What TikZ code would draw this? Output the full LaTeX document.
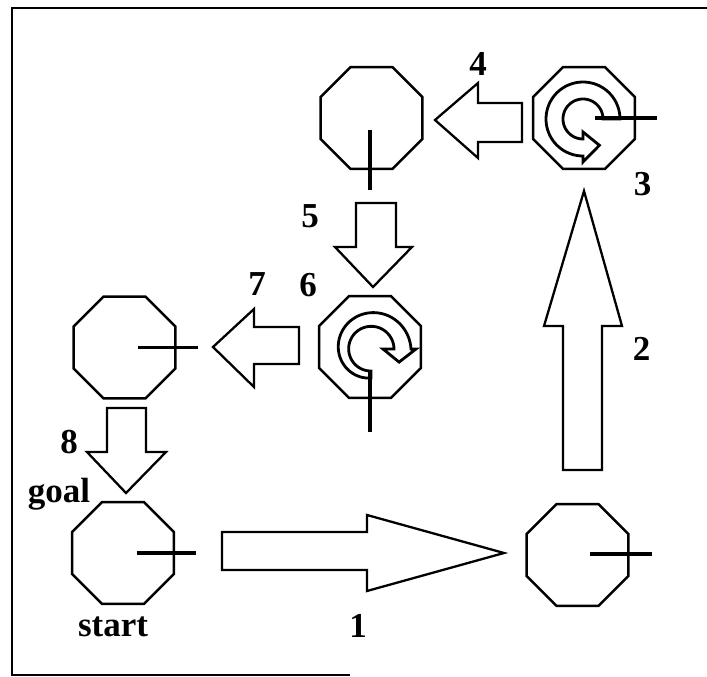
\documentclass[tikz,border=0pt]{standalone}
\usepackage{fontspec}
\setmainfont{Liberation Serif}
\usetikzlibrary{shapes.geometric,calc}
\begin{document}
\begin{tikzpicture}[x=1pt,y=-1pt,
  cell/.style={draw, regular polygon, regular polygon sides=8, minimum size=110pt,
    inner sep=0pt, outer sep=0pt, line width=2.4pt},
  heading/.style={line width=3.6pt},
  bigarrow/.style={draw, line width=2.3pt, line join=miter, fill=white},
  turn/.style={draw, line width=2.8pt, line join=miter, fill=white},
  lbl/.style={font=\fontsize{35}{40}\selectfont\bfseries, inner sep=0pt, anchor=base},
  frame/.style={line width=2.6pt}]
\useasboundingbox (0,0) rectangle (707,677);

% open frame
\draw[frame] (707,8) -- (12,8) -- (12,675) -- (350,675);

% robot positions
\node[cell] (s)  at (123,553)   {};
\node[cell] (e)  at (577.5,555) {};
\node[cell] (ne) at (584,118)   {};
\node[cell] (n)  at (371.5,118) {};
\node[cell] (c)  at (370,347)   {};
\node[cell] (w)  at (124.5,347.5) {};

% in-place turns
\path[turn]
  plot[domain=0:-270, samples=60, smooth] ({583+37*cos(\x)}, {119+37*sin(\x)})
  -- (583,162) -- ({583+31*cos(-302)}, {119+31*sin(-302)}) -- (583,132)
  -- plot[domain=-270:0, samples=60, smooth] ({583+20*cos(\x)}, {119+20*sin(\x)})
  -- cycle;
\path[turn]
  plot[domain=90:360, samples=60, smooth]
    ({371+(29+11*(\x-90)/270)*cos(\x)}, {349+(29+11*(\x-90)/270)*sin(\x)})
  -- (416,349) -- ({371+31*cos(25)}, {349+31*sin(25)}) -- (383,349)
  -- plot[domain=360:90, samples=60, smooth]
    ({371+(22+1*(\x-90)/270)*cos(\x)}, {349+(22+1*(\x-90)/270)*sin(\x)})
  -- cycle;

% headings
\draw[heading] ($(s.center)+(14,0)$) -- ($(s.center)+(73,0)$);
\draw[heading] ($(e.center)+(12.5,-1)$) -- ($(e.center)+(74.5,-1)$);
\draw[heading] ($(ne.center)+(11,0)$) -- ($(ne.center)+(73,0)$);
\draw[heading] ($(n.center)+(-1.5,12)$) -- ($(n.center)+(-1.5,72)$);
\draw[heading] ($(c.center)+(0,25)$) -- ($(c.center)+(0,85)$);
\draw[heading] ($(w.center)+(13.5,0)$) -- ($(w.center)+(73.5,0)$);

% moves
\draw[bigarrow] (222,532) -- (367,532) -- (367,515) -- (504,553) -- (367,591) -- (367,570) -- (222,570) -- cycle;
\draw[bigarrow] (563,470) -- (563,326) -- (544,326) -- (584,191) -- (622,326) -- (602,326) -- (602,470) -- cycle;
\draw[bigarrow] (522,103) -- (478,103) -- (478,83) -- (435,120) -- (478,158) -- (478,142) -- (522,142) -- cycle;
\draw[bigarrow] (356,203) -- (396,203) -- (396,247) -- (412,247) -- (373,287) -- (335,247) -- (356,247) -- cycle;
\draw[bigarrow] (299,327) -- (254,327) -- (254,309) -- (213,347) -- (254,387) -- (254,364) -- (299,364) -- cycle;
\draw[bigarrow] (107,408) -- (146,408) -- (146,452) -- (166,452) -- (126,493) -- (87,452) -- (107,452) -- cycle;

% step numbers and labels
\node[lbl] (l1) at (358,637) {1};
\node[lbl] (l2) at (641.5,360) {2};
\node[lbl] (l3) at (642.5,195) {3};
\node[lbl] (l4) at (478,76) {4};
\node[lbl] (l5) at (310,227) {5};
\node[lbl] (l6) at (308,296) {6};
\node[lbl] (l7) at (257,295) {7};
\node[lbl] (l8) at (69,453) {8};
\node[lbl] (goal) at (59,502) {goal};
\node[lbl] (start) at (113,636) {start};
\end{tikzpicture}
\end{document}
